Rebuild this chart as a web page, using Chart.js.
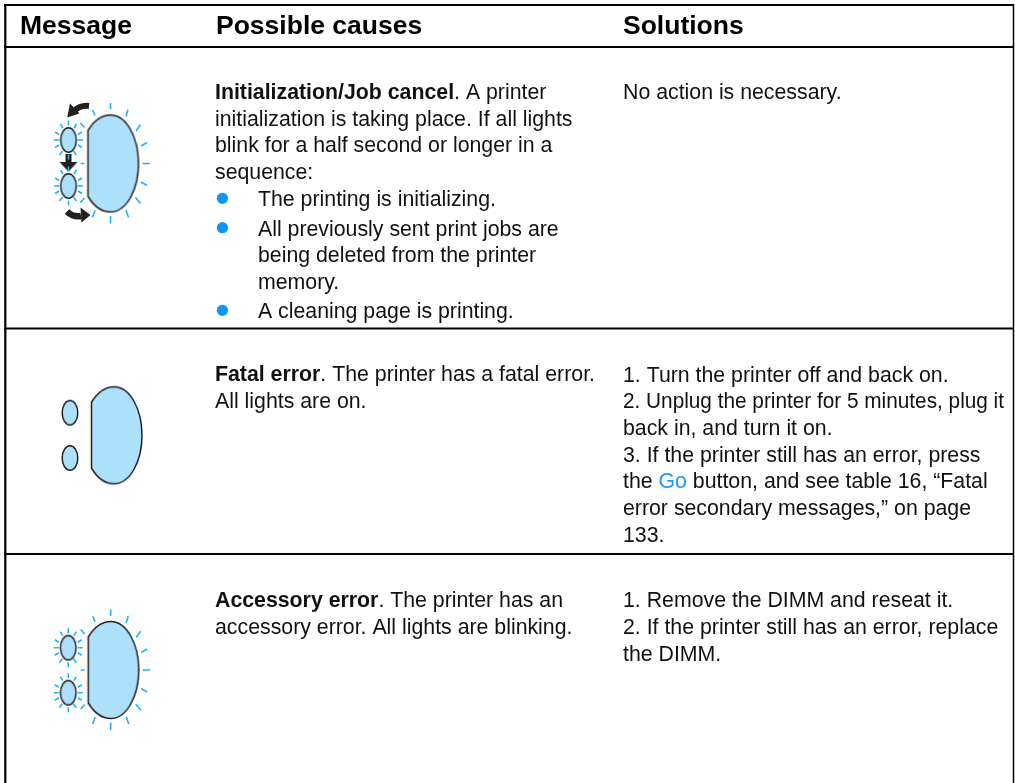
<!DOCTYPE html>
<html>
<head>
<meta charset="utf-8">
<title>Message table</title>
<script src="https://cdn.jsdelivr.net/npm/chart.js@4"></script>
<style>
  html, body { margin: 0; padding: 0; background: #fff; }
  canvas { display: block; }
</style>
</head>
<body>
<canvas id="myChart" width="1015" height="783"></canvas>
<script>
// table text
const headers = ["Message", "Possible causes", "Solutions"];
const boldLeads = ["Initialization/Job cancel", "Fatal error", "Accessory error"];
const causeLines = [
  "Initialization/Job cancel. A printer", "initialization is taking place. If all lights",
  "blink for a half second or longer in a", "sequence:",
  "The printing is initializing.", "All previously sent print jobs are",
  "being deleted from the printer", "memory.", "A cleaning page is printing.",
  "Fatal error. The printer has a fatal error.", "All lights are on.",
  "Accessory error. The printer has an", "accessory error. All lights are blinking."
];
const solutionLines = [
  "No action is necessary.",
  "1. Turn the printer off and back on.", "2. Unplug the printer for 5 minutes, plug it",
  "back in, and turn it on.", "3. If the printer still has an error, press",
  "the Go button, and see table 16, \u201CFatal", "error secondary messages,\u201D on page", "133.",
  "1. Remove the DIMM and reseat it.", "2. If the printer still has an error, replace", "the DIMM."
];

// where things sit, in page units
const headerX = [20, 216, 623];
const headerY = 34;
const causeX = [215, 215, 215, 215, 258, 258, 258, 258, 258, 215, 215, 215, 215];
const causeY = [99, 125.7, 152.3, 178.7, 205.5, 235.7, 262.3, 289, 318.3, 381.3, 408.3, 607.3, 634];
const solutionX = 623;
const solutionY = [99, 381.5, 408.3, 435, 461.7, 488.3, 515, 541.5, 607.3, 634, 660.5];
const unplugWidth = 381;

const hRules = [47, 328.5, 554];
const bulletX = [222.4, 222.4, 222.4];
const bulletY = [198.3, 227.7, 310.3];

// icons: centre of the big lobe, and the two small lights
const lobes = [[110.5, 163.5], [114, 435.3], [110.7, 670]];
const lights = [[68.5, 140], [68.5, 186], [70, 412.7], [70, 458], [68.3, 647.7], [68.3, 692.7]];
const blinkingLobes = [0, 2];
const blinkingLights = [0, 1, 4, 5];
const arrows = [[78, 110], [68.5, 162], [78, 215]];

// blink rays around a lobe / a light, relative to its centre
const lobeRays = [
  [0, -60.5, 0, -54], [17.5, -54, 15.5, -47], [30, -39, 25.5, -32.5], [36.5, -21, 30.5, -17.5],
  [39.5, 0, 32, 0], [36.5, 22, 30.5, 18.5], [30, 40, 25, 34], [18, 54, 15.5, 46.5],
  [0, 60, 0, 52.5], [-18, 54, -15.5, 47], [-15.5, -48, -18, -53.5],
  [-26, -36, -30, -40.5], [-26, 0, -30, 0], [-26, 34.5, -30, 39]
];
const lightRays = [
  [0, -19.5, 0, -14.5], [-8, -16, -5.5, -12], [8, -16, 5.5, -12],
  [-13.5, -8, -9.5, -5.5], [13.5, -8, 9.5, -5.5], [-14.5, 0, -9.5, 0], [14.5, 0, 9.5, 0],
  [-13.5, 7.5, -9.5, 5], [13.5, 7.5, 9.5, 5], [-9, 15, -6, 11], [8, 15, 5, 11], [0, 19.5, 0, 14.5]
];

const blue = "#ade0fb";
const ink = "#231f20";
const rayBlue = "#1fb6f0";
const font = '"Liberation Sans", Arial, sans-serif';

function sprite(w, h, draw) {
  const c = document.createElement("canvas");
  c.width = w;
  c.height = h;
  const g = c.getContext("2d");
  g.translate(w / 2, h / 2);
  draw(g);
  return c;
}

const lobeSprite = sprite(70, 110, g => {
  g.beginPath();
  g.moveTo(-22.5, -33);
  g.bezierCurveTo(-17, -42, -9, -48.5, 0, -48.5);
  g.bezierCurveTo(16, -48.5, 28, -26, 28, 0);
  g.bezierCurveTo(28, 26, 16, 48.5, 0, 48.5);
  g.bezierCurveTo(-9, 48.5, -17, 42, -22.5, 33);
  g.closePath();
  g.fillStyle = blue;
  g.fill();
  g.strokeStyle = ink;
  g.lineWidth = 1.5;
  g.stroke();
});

const lightSprite = sprite(24, 32, g => {
  g.beginPath();
  g.ellipse(0, 0, 7.8, 12.3, 0, 0, Math.PI * 2);
  g.fillStyle = blue;
  g.fill();
  g.strokeStyle = ink;
  g.lineWidth = 1.5;
  g.stroke();
});

const upArrow = sprite(32, 24, g => {
  g.strokeStyle = ink;
  g.fillStyle = ink;
  g.lineWidth = 6;
  g.beginPath();
  g.moveTo(11, -4);
  g.quadraticCurveTo(2, -5, -4, 1);
  g.stroke();
  g.beginPath();
  g.moveTo(-10.8, 7.5);
  g.lineTo(-8, -6.5);
  g.lineTo(1.5, 3.5);
  g.closePath();
  g.fill();
});

const downArrow = sprite(24, 28, g => {
  g.fillStyle = ink;
  g.fillRect(-3, -8, 6, 9);
  g.beginPath();
  g.moveTo(-9, 0);
  g.lineTo(9, 0);
  g.lineTo(0, 9.7);
  g.closePath();
  g.fill();
});

const sideArrow = sprite(32, 24, g => {
  g.strokeStyle = ink;
  g.fillStyle = ink;
  g.lineWidth = 6.5;
  g.beginPath();
  g.moveTo(-11, -3.5);
  g.quadraticCurveTo(-5, 2.5, 3, 1);
  g.stroke();
  g.beginPath();
  g.moveTo(2.5, -7.5);
  g.lineTo(12.5, 0);
  g.lineTo(3.5, 7.5);
  g.closePath();
  g.fill();
});

// segments as x1,y1 / x2,y2 pairs, broken by a gap
function segments(list) {
  const out = [];
  list.forEach(s => {
    out.push({ x: s[0], y: s[1] }, { x: s[2], y: s[3] }, { x: null, y: null });
  });
  return out;
}

function raysFrom(centres, rays) {
  const list = [];
  centres.forEach(c => rays.forEach(r => {
    list.push([c[0] + r[0], c[1] + r[1], c[0] + r[2], c[1] + r[3]]);
  }));
  return list;
}

function lineSet(list, color, width) {
  return {
    data: segments(list),
    showLine: true,
    spanGaps: false,
    borderColor: color,
    borderWidth: width,
    borderCapStyle: "butt",
    pointRadius: 0,
    clip: false
  };
}

function pointSet(points, style) {
  return {
    data: points.map(p => ({ x: p[0], y: p[1] })),
    pointStyle: style,
    pointRadius: 6,
    clip: false
  };
}

function drawRuns(ctx, text, x, y, maxWidth) {
  const lead = boldLeads.find(b => text.startsWith(b));
  ctx.fillStyle = "#111";
  if (lead) {
    ctx.font = "bold 21.3px " + font;
    ctx.fillText(lead, x, y);
    x += ctx.measureText(lead).width;
    text = text.slice(lead.length);
  }
  ctx.font = "21.3px " + font;
  const at = text.indexOf(" Go ");
  if (at >= 0) {
    const before = text.slice(0, at + 1);
    ctx.fillText(before, x, y);
    x += ctx.measureText(before).width;
    ctx.fillStyle = "#1e9af0";
    ctx.fillText("Go", x, y);
    x += ctx.measureText("Go").width;
    ctx.fillStyle = "#111";
    text = text.slice(at + 3);
  }
  if (maxWidth) ctx.fillText(text, x, y, maxWidth);
  else ctx.fillText(text, x, y);
}

const tableText = {
  id: "tableText",
  afterDraw(chart) {
    const ctx = chart.ctx;
    const sx = chart.scales.x;
    const sy = chart.scales.y;
    ctx.save();
    ctx.textBaseline = "alphabetic";
    ctx.textAlign = "left";
    ctx.fillStyle = "#000";
    ctx.font = "bold 26.5px " + font;
    headers.forEach((h, i) => {
      ctx.fillText(h, sx.getPixelForValue(headerX[i]), sy.getPixelForValue(headerY));
    });
    causeLines.forEach((t, i) => {
      drawRuns(ctx, t, sx.getPixelForValue(causeX[i]), sy.getPixelForValue(causeY[i]));
    });
    solutionLines.forEach((t, i) => {
      drawRuns(ctx, t, sx.getPixelForValue(solutionX), sy.getPixelForValue(solutionY[i]),
        t.startsWith("2. Unplug") ? unplugWidth : 0);
    });
    ctx.restore();
  }
};

new Chart(document.getElementById("myChart").getContext("2d"), {
  type: "scatter",
  data: {
    datasets: [
      lineSet([[4, 5, 1014, 5]].concat(hRules.map(y => [4, y, 1014, y])), "#000", 2.2),
      lineSet([[5.3, 4, 5.3, 783]], "#000", 2.2),
      lineSet([[1013.5, 4, 1013.5, 783]], "#000", 1.5),
      lineSet(raysFrom(blinkingLobes.map(i => lobes[i]), lobeRays), rayBlue, 1.6),
      lineSet(raysFrom(blinkingLights.map(i => lights[i]), lightRays), rayBlue, 1.6),
      pointSet(lobes, lobeSprite),
      pointSet(lights, lightSprite),
      pointSet([arrows[0]], upArrow),
      pointSet([arrows[1]], downArrow),
      pointSet([arrows[2]], sideArrow),
      {
        data: bulletX.map((x, i) => ({ x: x, y: bulletY[i] })),
        pointStyle: "circle",
        pointRadius: 5.6,
        pointBackgroundColor: "#0a96ff",
        pointBorderWidth: 0
      }
    ]
  },
  options: {
    responsive: false,
    animation: false,
    layout: { padding: 0, autoPadding: false },
    plugins: { legend: { display: false }, tooltip: { enabled: false } },
    scales: {
      x: { type: "linear", display: false, min: 0, max: 1015 },
      y: { type: "linear", display: false, min: 0, max: 783, reverse: true }
    }
  },
  plugins: [tableText]
});
</script>
</body>
</html>
